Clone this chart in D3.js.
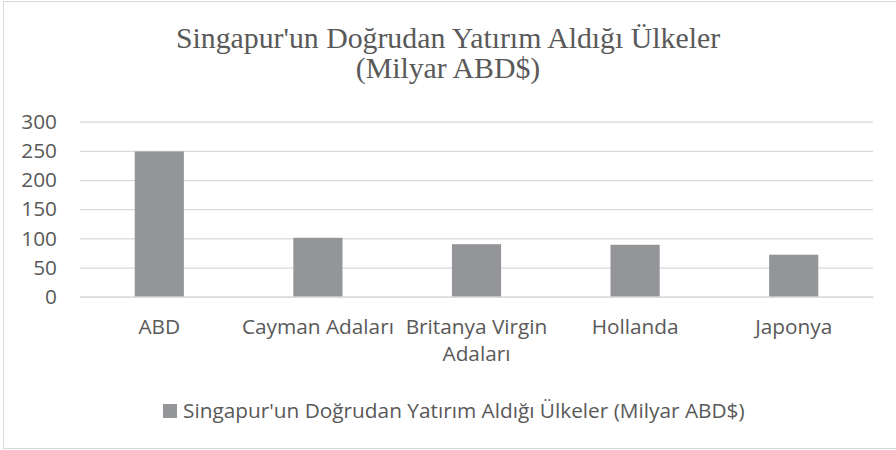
<!DOCTYPE html>
<html>
<head>
<meta charset="utf-8">
<script src="https://cdn.jsdelivr.net/npm/d3@7"></script>
<style>
  body { margin: 0; background: #fff; }
  svg { display: block; }
</style>
</head>
<body>
<script>
// veri
const categories = ['ABD', 'Cayman Adaları', 'Britanya Virgin Adaları', 'Hollanda', 'Japonya'];
const values = [249, 101, 90, 89, 72];
const yTicks = [0, 50, 100, 150, 200, 250, 300];
const titleLines = ["Singapur'un Doğrudan Yatırım Aldığı Ülkeler", '(Milyar ABD$)'];
const seriesName = "Singapur'un Doğrudan Yatırım Aldığı Ülkeler (Milyar ABD$)";

const width = 896;
const height = 450;
const margin = { top: 121.7, right: 23, bottom: 153.3, left: 80 };

const textColor = '#595959';
const barColor = '#939598';
const gridColor = '#d9d9d9';
const sans = "'Open Sans', sans-serif";
const fontSize = '20.8px';

const svg = d3.select('body').append('svg')
  .attr('width', width)
  .attr('height', height);

// çerçeve
svg.append('rect')
  .attr('x', 3.5).attr('y', 1.5)
  .attr('width', width + 10).attr('height', 447)
  .attr('fill', '#fff')
  .attr('stroke', '#d9d9d9')
  .attr('stroke-width', 1);

// ölçekler
const x = d3.scaleBand()
  .domain(categories)
  .range([margin.left, width - margin.right])
  .paddingInner(0.69)
  .paddingOuter(0.345);

const y = d3.scaleLinear()
  .domain([0, 300])
  .range([height - margin.bottom, margin.top]);

// başlık
svg.append('text')
  .attr('x', width / 2)
  .attr('y', 48)
  .attr('text-anchor', 'middle')
  .attr('fill', textColor)
  .style('font-family', "'Liberation Serif', 'Times New Roman', serif")
  .style('font-size', '29.8px')
  .selectAll('tspan')
  .data(titleLines)
  .enter().append('tspan')
  .attr('x', width / 2)
  .attr('dy', (d, i) => i === 0 ? 0 : 30)
  .text(d => d);

// y ekseni + ızgara
const gy = svg.append('g')
  .attr('transform', `translate(${margin.left},0)`)
  .call(d3.axisLeft(y).tickValues(yTicks).tickSize(-(width - margin.left - margin.right)).tickPadding(23))
  .call(g => g.select('.domain').remove());
gy.selectAll('.tick line').attr('stroke', gridColor).attr('stroke-width', 1.3);
gy.selectAll('.tick text')
  .attr('fill', textColor)
  .style('font-family', sans)
  .style('font-size', fontSize);

// çubuklar
svg.append('g')
  .attr('fill', barColor)
  .selectAll('rect')
  .data(categories)
  .enter().append('rect')
  .attr('x', d => x(d))
  .attr('y', (d, i) => y(values[i]))
  .attr('width', x.bandwidth())
  .attr('height', (d, i) => y(0) - y(values[i]));

// x ekseni
const gx = svg.append('g')
  .attr('transform', `translate(0,${height - margin.bottom})`)
  .call(d3.axisBottom(x).tickSize(0).tickPadding(23))
  .call(g => g.select('.domain').attr('stroke', gridColor).attr('stroke-width', 1.3));
gx.selectAll('.tick text')
  .attr('fill', textColor)
  .style('font-family', sans)
  .style('font-size', fontSize)
  .call(wrap, x.step());

function wrap(texts, w) {
  texts.each(function () {
    const text = d3.select(this);
    const words = text.text().split(/\s+/);
    const yy = text.attr('y');
    const dy = parseFloat(text.attr('dy')) || 0;
    let line = [];
    let lineNo = 0;
    let tspan = text.text(null).append('tspan').attr('x', 0).attr('y', yy).attr('dy', dy + 'em');
    for (const word of words) {
      line.push(word);
      tspan.text(line.join(' '));
      if (tspan.node().getComputedTextLength() > w && line.length > 1) {
        line.pop();
        tspan.text(line.join(' '));
        line = [word];
        tspan = text.append('tspan').attr('x', 0).attr('y', yy)
          .attr('dy', (++lineNo * 1.3 + dy) + 'em').text(word);
      }
    }
  });
}

// lejant
const legend = svg.append('g').attr('transform', 'translate(163,404)');
legend.append('rect')
  .attr('width', 14).attr('height', 14)
  .attr('fill', barColor);
legend.append('text')
  .attr('x', 20).attr('y', 7)
  .attr('dy', '0.35em')
  .attr('fill', textColor)
  .style('font-family', sans)
  .style('font-size', fontSize)
  .text(seriesName);
</script>
</body>
</html>
